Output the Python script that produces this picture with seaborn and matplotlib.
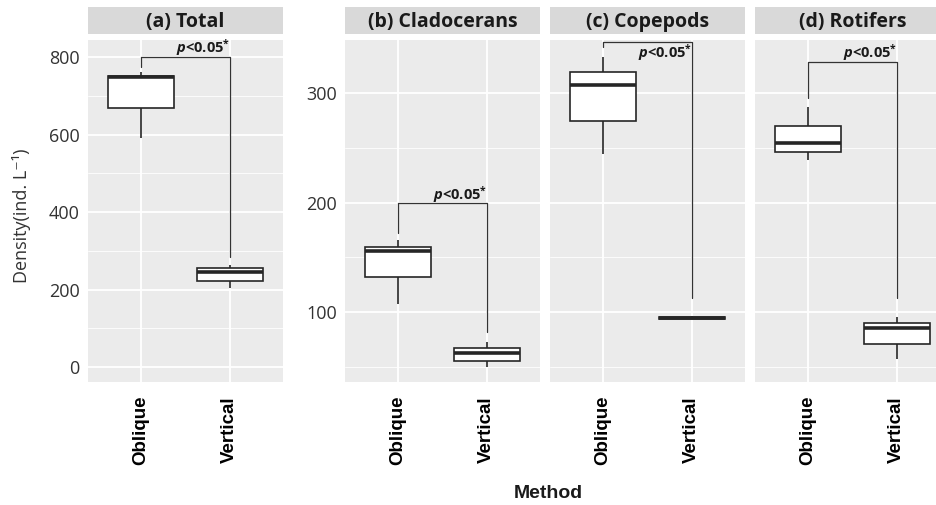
import matplotlib
matplotlib.use('Agg')
import matplotlib.pyplot as plt
import pandas as pd
import seaborn as sns
from matplotlib.ticker import MultipleLocator

# Kategoriler ve paneller
methods = ['Oblique', 'Vertical']
panel_titles = ['(a) Total', '(b) Cladocerans', '(c) Copepods', '(d) Rotifers']

# Her kutu için 5 değer: alt bıyık, Q1, medyan, Q3, üst bıyık
total_oblique = [591, 668, 748, 751, 761]
total_vertical = [204, 222, 245, 256, 263]
clad_oblique = [107, 132, 156, 159, 166]
clad_vertical = [50, 55, 62.5, 67, 72.6]
cope_oblique = [244, 274, 307, 319, 333]
cope_vertical = [94, 94, 94.5, 95, 96]
roti_oblique = [239, 246, 254, 270, 287]
roti_vertical = [57, 71, 85, 90, 95]

# Anlamlılık parantezleri
bracket_y = [800, 200, 347, 328]
bracket_left_end = [775, 172, 342, 295]
bracket_right_end = [284, 82, 113, 113]
p_label_y = [824, 207, 337, 337]
p_label = r'$\mathit{p}$<0.05$^{*}$'

sns.set_theme(style='darkgrid')
plt.rcParams.update({
    'mathtext.fontset': 'custom',
    'mathtext.it': 'Open Sans:italic:bold',
    'mathtext.rm': 'Open Sans:bold',
    'mathtext.bf': 'Open Sans:bold',
})
plt.rcParams['font.family'] = ['Open Sans', 'DejaVu Sans']

W, H = 936, 505
fig = plt.figure(figsize=(W / 100, H / 100), dpi=100)
fig.patch.set_facecolor('white')


def px_axes(left, right, top, bottom):
    return fig.add_axes([left / W, 1 - bottom / H, (right - left) / W, (bottom - top) / H])


def make_df(obl, ver):
    return pd.DataFrame({'Method': ['Oblique'] * len(obl) + ['Vertical'] * len(ver),
                         'Density': obl + ver})


panel_data = [(total_oblique, total_vertical), (clad_oblique, clad_vertical),
              (cope_oblique, cope_vertical), (roti_oblique, roti_vertical)]
lefts = [88, 345, 550, 755]
panel_w = 195
plot_top, plot_bottom = 40, 382
strip_top, strip_bottom = 7, 34

for i, (obl, ver) in enumerate(panel_data):
    ax = px_axes(lefts[i], lefts[i] + panel_w, plot_top, plot_bottom)
    df = make_df(obl, ver)
    sns.boxplot(data=df, x='Method', y='Density', order=methods, ax=ax,
                color='white', saturation=1, linecolor='#262626', linewidth=1.2,
                width=0.75, showcaps=False, showfliers=False,
                medianprops={'linewidth': 2.6})
    ax.set_facecolor('#EBEBEB')
    ax.set_axisbelow(True)
    ax.set_xlim(-0.6, 1.6)
    if i == 0:
        ax.set_ylim(-38.7, 843.9)
        ax.yaxis.set_major_locator(MultipleLocator(200))
        ax.yaxis.set_minor_locator(MultipleLocator(100))
    else:
        ax.set_ylim(36.1, 348.4)
        ax.yaxis.set_major_locator(MultipleLocator(100))
        ax.yaxis.set_minor_locator(MultipleLocator(50))
    ax.grid(True, which='major', color='white', linewidth=1.3)
    ax.grid(True, which='minor', axis='y', color='white', linewidth=0.6)
    for s in ax.spines.values():
        s.set_visible(False)
    ax.set_xlabel('')
    ax.set_ylabel('')
    ax.tick_params(axis='both', which='major', length=4, width=0.9, color='#333333')
    ax.tick_params(axis='both', which='minor', length=0)
    ax.tick_params(axis='x', pad=6)
    ax.tick_params(axis='y', pad=2, labelsize=13, labelcolor='#333333')
    ax.set_xticks([0, 1])
    ax.set_xticklabels(methods, rotation=90, fontsize=13.5, fontweight='bold',
                       family='Liberation Sans', color='black')
    if i >= 2:
        ax.tick_params(axis='y', left=False, labelleft=False)

    # parantez ve p etiketi
    ax.plot([0, 0, 1, 1], [bracket_left_end[i], bracket_y[i], bracket_y[i], bracket_right_end[i]],
            color='#333333', linewidth=0.9)
    ax.text(0.7, p_label_y[i], p_label, ha='center', va='center', fontsize=10.5,
            fontweight='bold', color='#1a1a1a')

    # şerit başlığı
    sax = px_axes(lefts[i], lefts[i] + panel_w, strip_top, strip_bottom)
    sax.set_facecolor('#D9D9D9')
    sax.set_xticks([])
    sax.set_yticks([])
    for s in sax.spines.values():
        s.set_visible(False)
    sax.text(0.5, 0.45, panel_titles[i], ha='center', va='center', fontsize=14,
             fontweight='bold', color='#1a1a1a', transform=sax.transAxes)

fig.text(22 / W, 1 - 216 / H, 'Density(ind. L⁻¹)', rotation=90, ha='center', va='center',
         fontsize=13, color='#333333', family=['Open Sans', 'DejaVu Sans'])
fig.text(548 / W, 1 - 494 / H, 'Method', ha='center', va='center', fontsize=14,
         fontweight='bold', family='Liberation Sans', color='#1a1a1a')

fig.savefig('out.png', dpi=100)
